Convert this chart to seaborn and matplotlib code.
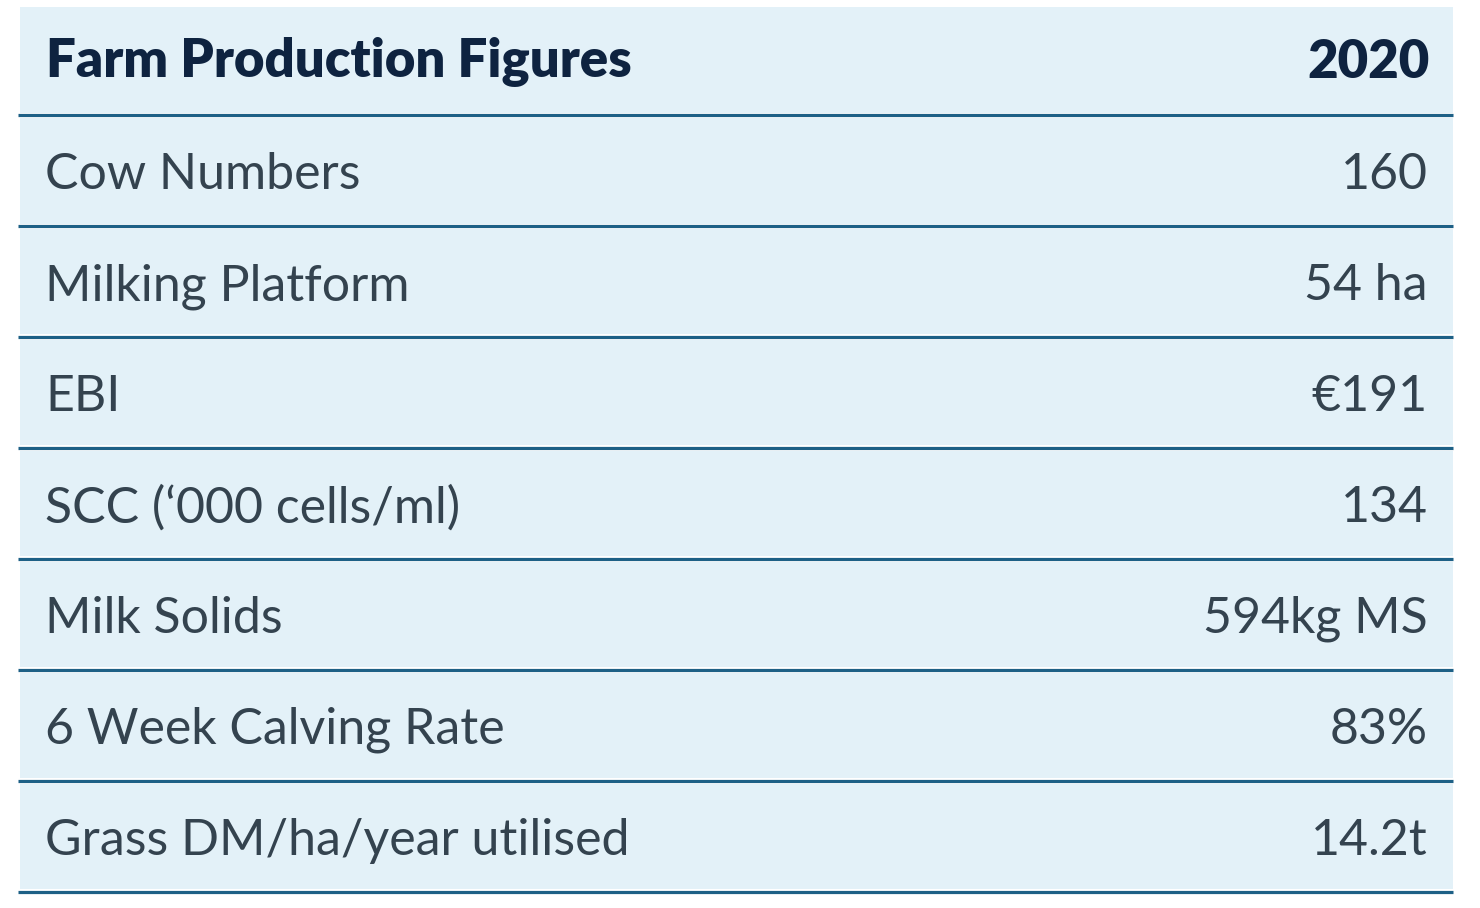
import matplotlib.pyplot as plt
import seaborn as sns

# table contents
header = ['Farm Production Figures', '2020']
labels = ['Cow Numbers', 'Milking Platform', 'EBI', "SCC (\u2018000 cells/ml)",
          'Milk Solids', '6 Week Calving Rate', 'Grass DM/ha/year utilised']
values = ['160', '54 ha', '\u20ac191', '134', '594kg MS', '83%', '14.2t']

sns.set_theme(style='white')
plt.rcParams['font.family'] = ['Lato', 'DejaVu Sans']

fig = plt.figure(figsize=(14.8, 9.08), dpi=100)
ax = fig.add_axes([0, 0, 1, 1])

rows = list(range(len(labels) + 1))
left, right = 20, 1453

# light blue cell bands
ax.barh(rows, [right - left] * len(rows), left=left, height=0.95,
        color='#e3f1f8', edgecolor='none', zorder=1)
# separating rules under each row
ax.hlines([r + 0.5 for r in rows], 18, right, color='#1d6086', lw=2.3, zorder=2)

ax.text(46, 0.02, header[0], fontsize=38, fontweight='heavy', color='#0e2340',
        va='center', ha='left', zorder=3)
ax.text(1430, 0.02, header[1], fontsize=38, fontweight='heavy', color='#0e2340',
        va='center', ha='right', zorder=3)
for i, (lab, val) in enumerate(zip(labels, values), start=1):
    ax.text(45, i + 0.04, lab, fontsize=36, color='#34434f', va='center', ha='left', zorder=3)
    ax.text(1428, i + 0.04, val, fontsize=36, color='#34434f', va='center', ha='right', zorder=3)

ax.set_xlim(0, 1480)
ax.set_ylim(7.646, -0.541)
ax.axis('off')

fig.savefig('out.png', dpi=100, facecolor='white')
